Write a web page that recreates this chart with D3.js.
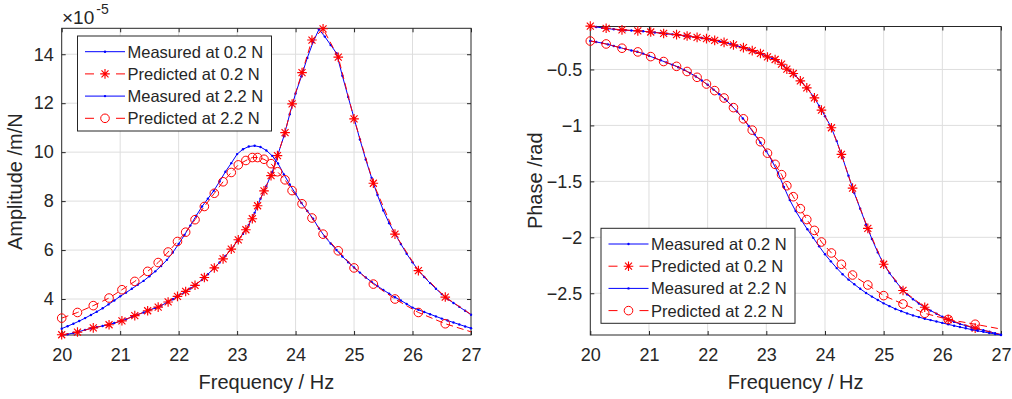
<!DOCTYPE html>
<html><head><meta charset="utf-8">
<script src="https://cdn.jsdelivr.net/npm/d3@7/dist/d3.min.js"></script>
<style>
body{margin:0;background:#fff}
svg{display:block}
text{font-family:"Liberation Sans",Arial,Helvetica,sans-serif;fill:#262626}
</style></head>
<body><svg id="c" width="1012" height="399"></svg>
<script>
// ---------------- data ----------------
const xTicks = [20,21,22,23,24,25,26,27];
const ampTicks = [4,6,8,10,12,14];          // ×10^-5 m/N
const phaseTicks = [-2.5,-2,-1.5,-1,-0.5];
const seriesNames = ["Measured at 0.2 N","Predicted at 0.2 N","Measured at 2.2 N","Predicted at 2.2 N"];

// measured frequency grid (Hz)
const measFreq = [20.0,20.1,20.2,20.3,20.4,20.5,20.6,20.7,20.8,20.9,
  21.0,21.1,21.2,21.3,21.4,21.5,21.6,21.7,21.8,21.9,
  22.0,22.1,22.2,22.3,22.4,22.5,22.6,22.7,22.8,22.9,
  23.0,23.1,23.2,23.3,23.4,23.5,23.6,23.7,23.8,23.9,
  24.0,24.1,24.2,24.3,24.4,24.5,24.6,24.7,24.8,24.9,
  25.0,25.1,25.2,25.3,25.4,25.5,25.6,25.7,25.8,25.9,
  26.0,26.1,26.2,26.3,26.4,26.5,26.6,26.7,26.8,26.9,27.0];
// amplitude, units of 1e-5 m/N
const measAmp02 = [2.52,2.56,2.61,2.67,2.74,2.80,2.85,2.90,2.95,3.02,
  3.09,3.17,3.27,3.36,3.45,3.55,3.63,3.73,3.86,3.99,
  4.14,4.28,4.43,4.60,4.79,5.01,5.25,5.49,5.76,6.04,
  6.36,6.66,7.03,7.52,8.10,8.62,9.18,9.92,10.65,11.55,
  12.40,13.10,13.85,14.50,15.02,14.72,14.38,14.04,13.12,12.25,
  11.39,10.52,9.70,8.95,8.25,7.62,7.10,6.67,6.25,5.85,
  5.50,5.17,4.90,4.65,4.42,4.20,4.00,3.84,3.68,3.52,3.36];
const measAmp22 = [2.79,2.89,2.99,3.10,3.22,3.35,3.48,3.62,3.78,3.94,
  4.11,4.26,4.42,4.58,4.74,4.93,5.13,5.35,5.60,5.90,
  6.25,6.62,7.00,7.40,7.78,8.10,8.42,8.80,9.20,9.55,
  9.92,10.12,10.23,10.26,10.21,10.07,9.85,9.54,9.09,8.68,
  8.30,7.92,7.60,7.28,6.88,6.55,6.27,6.00,5.74,5.50,
  5.29,5.08,4.88,4.70,4.53,4.37,4.22,4.07,3.94,3.80,
  3.65,3.56,3.47,3.38,3.29,3.20,3.12,3.04,2.96,2.88,2.81];
// phase, rad
const measPh02 = [-0.113,-0.120,-0.128,-0.135,-0.141,-0.146,-0.149,-0.152,-0.155,-0.159,
  -0.163,-0.169,-0.175,-0.181,-0.186,-0.191,-0.198,-0.205,-0.212,-0.219,
  -0.226,-0.237,-0.248,-0.260,-0.274,-0.288,-0.304,-0.321,-0.339,-0.358,
  -0.380,-0.402,-0.428,-0.470,-0.513,-0.556,-0.612,-0.670,-0.740,-0.825,
  -0.918,-1.010,-1.140,-1.290,-1.450,-1.605,-1.745,-1.885,-2.015,-2.135,
  -2.240,-2.320,-2.390,-2.455,-2.510,-2.553,-2.592,-2.625,-2.655,-2.683,
  -2.710,-2.735,-2.756,-2.774,-2.790,-2.805,-2.818,-2.831,-2.843,-2.857,-2.870];
const measPh22 = [-0.245,-0.254,-0.264,-0.276,-0.290,-0.304,-0.317,-0.330,-0.342,-0.358,
  -0.378,-0.398,-0.418,-0.438,-0.458,-0.480,-0.504,-0.532,-0.563,-0.598,
  -0.637,-0.680,-0.722,-0.766,-0.818,-0.876,-0.938,-1.005,-1.080,-1.155,
  -1.230,-1.320,-1.425,-1.550,-1.667,-1.765,-1.850,-1.928,-2.005,-2.080,
  -2.152,-2.215,-2.275,-2.330,-2.378,-2.420,-2.460,-2.497,-2.530,-2.560,
  -2.590,-2.615,-2.640,-2.660,-2.680,-2.698,-2.713,-2.728,-2.740,-2.752,
  -2.765,-2.778,-2.790,-2.802,-2.813,-2.825,-2.835,-2.845,-2.855,-2.864,-2.873];

// predicted frequency points (Hz); markers at all but the closing 27 Hz point
const predFreq = [20.00,20.27,20.54,20.81,21.03,21.25,21.47,21.65,21.82,21.98,
  22.12,22.28,22.44,22.61,22.76,22.90,23.02,23.15,23.26,23.35,
  23.46,23.58,23.69,23.82,23.94,24.11,24.28,24.47,24.73,25.00,
  25.33,25.70,26.10,26.56,27.00];
const predAmp02 = [2.54,2.65,2.82,2.95,3.11,3.32,3.52,3.67,3.88,4.11,
  4.31,4.56,4.88,5.27,5.64,6.04,6.42,6.83,7.28,7.81,
  8.42,9.04,9.86,10.80,11.97,13.25,14.58,15.04,13.88,11.36,
  8.73,6.65,5.16,4.08,3.37];
const predAmp22 = [3.22,3.45,3.73,4.04,4.38,4.72,5.13,5.49,5.92,6.35,
  6.73,7.24,7.78,8.32,8.79,9.17,9.48,9.66,9.78,9.78,
  9.71,9.53,9.20,8.87,8.43,7.89,7.31,6.65,5.97,5.27,
  4.61,4.00,3.45,2.99,2.66];
const predPh02 = [-0.113,-0.132,-0.146,-0.155,-0.165,-0.178,-0.189,-0.201,-0.213,-0.224,
  -0.240,-0.258,-0.280,-0.305,-0.332,-0.357,-0.388,-0.411,-0.453,-0.497,
  -0.536,-0.602,-0.664,-0.754,-0.863,-1.021,-1.259,-1.560,-1.920,-2.241,
  -2.475,-2.625,-2.736,-2.812,-2.870];
const predPh22 = [-0.246,-0.272,-0.310,-0.343,-0.385,-0.429,-0.472,-0.518,-0.570,-0.630,
  -0.689,-0.755,-0.841,-0.941,-1.042,-1.146,-1.248,-1.348,-1.440,-1.539,
  -1.637,-1.744,-1.841,-1.938,-2.042,-2.140,-2.241,-2.337,-2.426,-2.521,
  -2.596,-2.679,-2.734,-2.777,-2.820];

// ---------------- drawing ----------------
const svg = d3.select('#c');
const AX = '#262626', GRID = '#dedede', BLUE = '#0000ff', RED = '#ff0000';
const starPath = 'M-4.8,0H4.8M0,-4.8V4.8M-3.5,-3.5L3.5,3.5M-3.5,3.5L3.5,-3.5';

function zip(xs, ys){ return xs.map((f,i)=>({f, v:ys[i]})); }

function drawMarker(sel, type){
  if(type==='star') sel.append('path').attr('d',starPath).attr('fill','none').attr('stroke',RED).attr('stroke-width',1.15);
  else if(type==='circle') sel.append('circle').attr('r',4.3).attr('fill','none').attr('stroke',RED).attr('stroke-width',1);
  else sel.append('circle').attr('r',1.2).attr('fill',BLUE);
}

function panel(cfg){
  const x = d3.scaleLinear().domain([20,27]).range([cfg.x0, cfg.x1]);
  const y = d3.scaleLinear().domain(cfg.yDomain).range([cfg.yBot, cfg.yTop]);
  const g = svg.append('g');

  // grid
  g.append('g').selectAll('line').data(xTicks.slice(1,-1)).join('line')
    .attr('x1',d=>x(d)).attr('x2',d=>x(d)).attr('y1',cfg.yTop).attr('y2',cfg.yBot)
    .attr('stroke',GRID).attr('stroke-width',1);
  g.append('g').selectAll('line').data(cfg.yTicks).join('line')
    .attr('x1',cfg.x0).attr('x2',cfg.x1).attr('y1',d=>y(d)).attr('y2',d=>y(d))
    .attr('stroke',GRID).attr('stroke-width',1);

  // axes
  const fmt = d3.format('');
  const ax = [
    g.append('g').attr('transform',`translate(0,${cfg.yBot})`)
      .call(d3.axisBottom(x).tickValues(xTicks).tickSize(-4).tickSizeOuter(0).tickPadding(13).tickFormat(fmt)),
    g.append('g').attr('transform',`translate(0,${cfg.yTop})`)
      .call(d3.axisTop(x).tickValues(xTicks).tickSize(-4).tickSizeOuter(0).tickFormat('')),
    g.append('g').attr('transform',`translate(${cfg.x0},0)`)
      .call(d3.axisLeft(y).tickValues(cfg.yTicks).tickSize(-4).tickSizeOuter(0).tickPadding(8).tickFormat(fmt)),
    g.append('g').attr('transform',`translate(${cfg.x1},0)`)
      .call(d3.axisRight(y).tickValues(cfg.yTicks).tickSize(-4).tickSizeOuter(0).tickFormat(''))
  ];
  ax.forEach(a=>{
    a.select('.domain').remove();
    a.selectAll('.tick line').attr('stroke',AX);
    a.selectAll('text').attr('font-size',18).attr('fill',AX).attr('font-family',null);
  });
  g.append('rect').attr('x',cfg.x0).attr('y',cfg.yTop).attr('width',cfg.x1-cfg.x0).attr('height',cfg.yBot-cfg.yTop)
    .attr('fill','none').attr('stroke',AX).attr('stroke-width',1);

  // series
  const line = d3.line().x(d=>x(d.f)).y(d=>y(d.v));
  cfg.series.forEach(s=>{
    const data = zip(s.f, s.v);
    const sg = g.append('g');
    sg.append('path').attr('d',line(data)).attr('fill','none')
      .attr('stroke', s.pred ? RED : BLUE).attr('stroke-width',1)
      .attr('stroke-dasharray', s.pred ? '7,4' : null);
    const md = s.pred ? data.filter(d=>d.f<27) : data;
    sg.selectAll('g.m').data(md).join('g').attr('class','m')
      .attr('transform',d=>`translate(${x(d.f)},${y(d.v)})`)
      .each(function(){ drawMarker(d3.select(this), s.marker); });
  });

  // labels
  svg.append('text').attr('x',(cfg.x0+cfg.x1)/2).attr('y',389).attr('text-anchor','middle')
    .attr('font-size',20).text('Frequency / Hz');
  svg.append('text').attr('transform',`translate(${cfg.ylabX},${(cfg.yTop+cfg.yBot)/2}) rotate(-90)`)
    .attr('text-anchor','middle').attr('font-size',20).text(cfg.ylabel);

  // legend
  const lg = svg.append('g').attr('transform',`translate(${cfg.legX},${cfg.legY})`);
  lg.append('rect').attr('width',194).attr('height',95).attr('fill','#fff').attr('stroke',AX).attr('stroke-width',1);
  cfg.series.forEach((s,i)=>{
    const yy = 15.7 + i*22.2;
    lg.append('line').attr('x1',7.5).attr('x2',47.5).attr('y1',yy).attr('y2',yy)
      .attr('stroke', s.pred ? RED : BLUE).attr('stroke-width',1)
      .attr('stroke-dasharray', s.pred ? '9,22' : null);
    drawMarker(lg.append('g').attr('transform',`translate(27.5,${yy})`), s.marker);
    lg.append('text').attr('x',50).attr('y',yy).attr('dy','0.36em').attr('font-size',16.5).text(seriesNames[i]);
  });
  return {x,y};
}

panel({
  x0:61.7, x1:471, yTop:28.3, yBot:335, yDomain:[2.53,15.06], yTicks:ampTicks,
  ylabel:'Amplitude /m/N', ylabX:22, legX:77.5, legY:36,
  series:[
    {f:measFreq, v:measAmp02, marker:'dot'},
    {f:predFreq, v:predAmp02, marker:'star', pred:true},
    {f:measFreq, v:measAmp22, marker:'dot'},
    {f:predFreq, v:predAmp22, marker:'circle', pred:true}
  ]
});
// exponent label
const ex = svg.append('text').attr('x',62).attr('y',23.5).attr('font-size',19);
ex.append('tspan').text('×10');
ex.append('tspan').attr('font-size',14).attr('dx',2).attr('dy',-9.5).text('-5');

panel({
  x0:590.3, x1:1001, yTop:26.5, yBot:335, yDomain:[-2.873,-0.116], yTicks:phaseTicks,
  ylabel:'Phase /rad', ylabX:542, legX:601, legY:228.3,
  series:[
    {f:measFreq, v:measPh02, marker:'dot'},
    {f:predFreq, v:predPh02, marker:'star', pred:true},
    {f:measFreq, v:measPh22, marker:'dot'},
    {f:predFreq, v:predPh22, marker:'circle', pred:true}
  ]
});
</script></body></html>
